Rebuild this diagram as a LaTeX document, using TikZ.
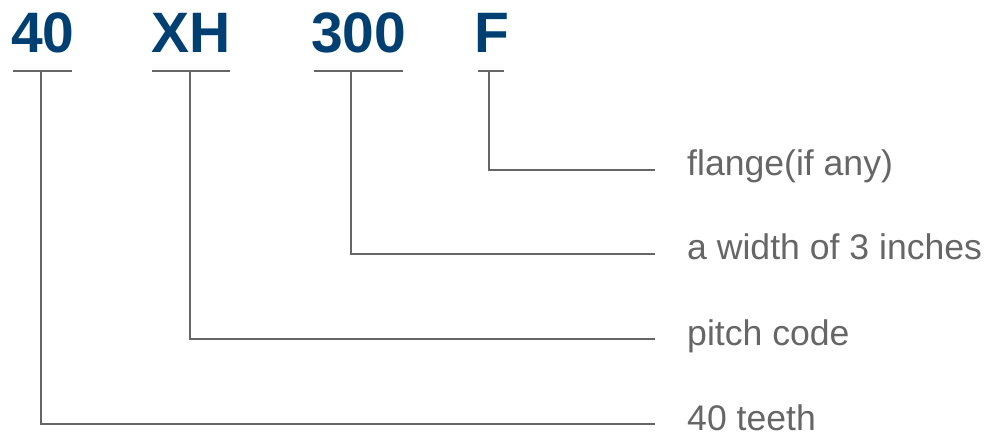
\documentclass[tikz,border=0pt]{standalone}
\usepackage{fontspec}
\setmainfont{Liberation Sans}
\usetikzlibrary{positioning}
\definecolor{codeblue}{HTML}{003F72}
\definecolor{leadgray}{HTML}{666666}
\tikzset{
  code/.style={anchor=base west, inner sep=0pt, text=codeblue,
    font=\fontsize{57}{60}\selectfont\bfseries},
  desc/.style={anchor=west, inner sep=0pt, text=leadgray,
    text height=13pt, text depth=1pt, font=\fontsize{35.6}{40}\selectfont},
  lead/.style={draw=leadgray, line width=2.5pt},
}

\begin{document}
\begin{tikzpicture}[x=1pt,y=1pt]
\useasboundingbox (0,0) rectangle (990,-438);
% part codes
\node[code] (n40) at (11,-53) {40};
\node[code] (nXH) at (151,-53) {XH};
\node[code] (n300) at (311,-53) {300};
\node[code] (nF) at (474,-53) {F};
% underline bars
\draw[lead] (13,-71) -- (72,-71);
\draw[lead] (152,-71) -- (230,-71);
\draw[lead] (314,-71) -- (403,-71);
\draw[lead] (478,-71) -- (504,-71);
\coordinate (b40) at (41,-71);
\coordinate (bXH) at (190,-71);
\coordinate (b300) at (351,-71);
\coordinate (bF) at (489,-71);
% meanings
\node[desc] (dF) at (687,-170) {flange(if any)};
\node[desc] (d300) at (687,-254) {a width of 3 inches};
\node[desc] (dXH) at (687,-339) {pitch code};
\node[desc] (d40) at (687,-424) {40 teeth};
% leaders
\draw[lead, shorten >=32pt] (bF) |- (dF.west);
\draw[lead, shorten >=32pt] (b300) |- (d300.west);
\draw[lead, shorten >=32pt] (bXH) |- (dXH.west);
\draw[lead, shorten >=32pt] (b40) |- (d40.west);
\end{tikzpicture}
\end{document}
